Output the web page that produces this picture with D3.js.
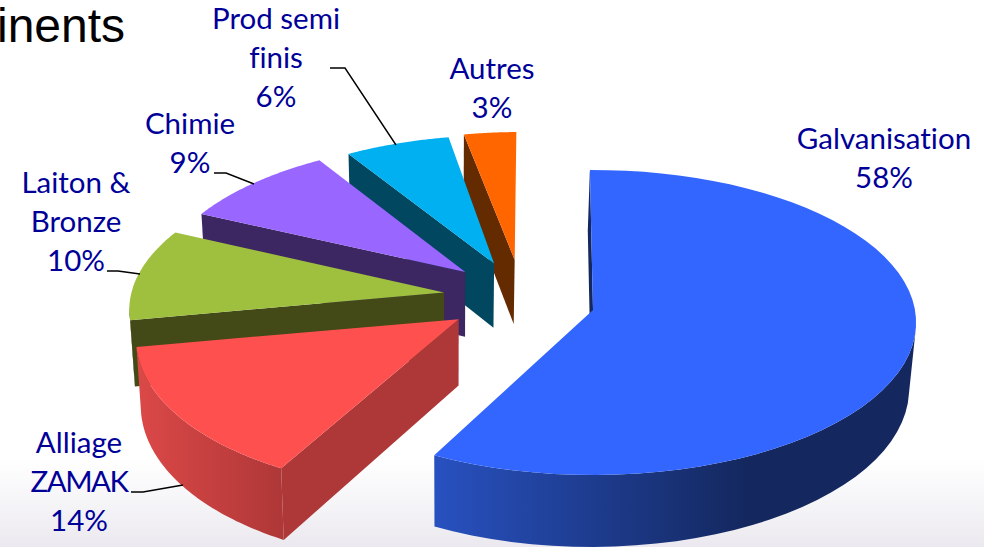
<!DOCTYPE html>
<html>
<head>
<meta charset="utf-8">
<script src="https://cdn.jsdelivr.net/npm/d3@7"></script>
<style>
  html, body { margin: 0; padding: 0; background: #fff; }
  svg { display: block; }
</style>
</head>
<body>
<div id="chart"></div>
<script>
// Chart values
const categories = ['Galvanisation', 'Alliage ZAMAK', 'Laiton & Bronze', 'Chimie', 'Prod semi finis', 'Autres'];
const shares = [58, 14, 10, 9, 6, 3];

// Slice styles, same order as categories
const topColors = ['#3366ff', '#ff5050', '#9fbf3f', '#9966ff', '#00b0f0', '#ff6600'];
const wallColors = ['#14285f', '#ae3737', '#434a17', '#3d2763', '#00475f', '#652b00'];
const rimLight = ['#2851c0', '#dc4848', '#434a17', '#3d2763', '#00475f', '#652b00'];
const explodeX = [0, -0.415, -0.467, -0.405, -0.315, -0.25];
const explodeY = [0, 0.06, -0.117, -0.256, -0.315, -0.34];
const radius = [1, 0.99, 0.98, 0.97, 0.96, 0.96];
const stretchY = [1, 1.04, 1, 1, 1, 1];
const turnStart = [1.4, 2, 2, 2, 2, 1.2]; // degrees
const turnEnd = [0.4, 2.8, 2, 2, 2, 1.2];

const labelLines = [
  ['Galvanisation', '58%'],
  ['Alliage', 'ZAMAK', '14%'],
  ['Laiton &', 'Bronze', '10%'],
  ['Chimie', '9%'],
  ['Prod semi', 'finis', '6%'],
  ['Autres', '3%']
];
const labelX = [884, 79, 76, 190, 276, 492];
const labelY = [149, 453, 193, 134, 29, 79];
const leaders = [
  null,
  [[131, 492], [143, 492], [183, 485]],
  [[107, 271], [118, 271], [140, 274]],
  [[214, 173], [226, 173], [254, 184]],
  [[330, 68], [345, 68], [396, 145]],
  null
];

const width = 984;
const height = 547;

// Projection of the tilted pie
const center = {x: 593, y: 310};
const rx = 322;
const ry = 151.5;
const persp = 0.082;
const depth = 66;
const vanishX = 450;
const shrink = 0.015;
const rad = Math.PI / 180;
const rotation = -2 * rad;

function project(wx, wy) {
  const p = 1 / (1 - persp * wy);
  return [center.x + rx * wx * p, center.y + ry * wy * p, p];
}

function lower(pt) {
  return [pt[0] + (vanishX - pt[0]) * shrink, pt[1] + depth * pt[2]];
}

const svg = d3.select('#chart')
  .append('svg')
  .attr('width', width)
  .attr('height', height);

const defs = svg.append('defs');

const bg = defs.append('linearGradient')
  .attr('id', 'bg')
  .attr('x1', 0).attr('x2', 0).attr('y1', 0).attr('y2', 1);
bg.append('stop').attr('offset', 0.84).attr('stop-color', '#ffffff');
bg.append('stop').attr('offset', 1).attr('stop-color', '#ebe9ef');

svg.append('rect')
  .attr('width', width)
  .attr('height', height)
  .attr('fill', 'url(#bg)');

const pie = d3.pie()
  .sort(null)
  .startAngle(rotation)
  .endAngle(rotation + 2 * Math.PI);

const arcs = pie(shares);
const line = d3.line();

// Back slices first, the big blue one last
const order = [5, 4, 3, 2, 1, 0];

order.forEach(i => {
  const a = arcs[i];
  const from = a.startAngle + turnStart[i] * rad;
  const to = a.endAngle + turnEnd[i] * rad;
  const apex = project(explodeX[i], explodeY[i]);
  const steps = d3.range(0, 61).map(k => from + (to - from) * k / 60);
  const rim = steps.map(th => project(
    explodeX[i] + radius[i] * Math.sin(th),
    explodeY[i] - radius[i] * stretchY[i] * Math.cos(th)
  ));
  const g = svg.append('g');

  // rim wall, only the part that faces the viewer
  const front = rim.filter((d, k) => steps[k] > 94 * rad && steps[k] < 265 * rad);
  if (front.length > 1) {
    const gradId = 'rim' + i;
    const grad = defs.append('linearGradient')
      .attr('id', gradId)
      .attr('gradientUnits', 'userSpaceOnUse')
      .attr('x1', d3.min(rim, d => d[0])).attr('x2', i === 0 ? 745 : rim[0][0] + 5)
      .attr('y1', 0).attr('y2', 0);
    grad.append('stop').attr('offset', 0).attr('stop-color', rimLight[i]);
    grad.append('stop').attr('offset', 1).attr('stop-color', wallColors[i]);

    g.append('path')
      .attr('d', line(front.map(d => d.slice(0, 2)).concat(front.slice().reverse().map(lower))) + 'Z')
      .attr('fill', `url(#${gradId})`);
  }

  // cut face on the start side
  g.append('path')
    .attr('d', line([rim[0].slice(0, 2), apex.slice(0, 2), lower(apex), lower(rim[0])]) + 'Z')
    .attr('fill', wallColors[i]);

  // top face
  g.append('path')
    .attr('d', line([apex.slice(0, 2)].concat(rim.map(d => d.slice(0, 2)))) + 'Z')
    .attr('fill', topColors[i]);
});

// Leader lines
svg.append('g')
  .selectAll('path')
  .data(leaders.filter(d => d))
  .join('path')
  .attr('d', d => line(d))
  .attr('fill', 'none')
  .attr('stroke', '#000')
  .attr('stroke-width', 1.4);

// Labels
labelLines.forEach((lines, i) => {
  svg.append('text')
    .attr('text-anchor', 'middle')
    .attr('font-family', 'Lato, sans-serif')
    .attr('font-size', 29.5)
    .attr('fill', '#000099')
    .style('font-variant-ligatures', 'none')
    .selectAll('tspan')
    .data(lines)
    .join('tspan')
    .attr('x', labelX[i])
    .attr('y', (d, k) => labelY[i] + k * 39)
    .attr('letter-spacing', d => d === 'ZAMAK' ? -1.5 : 0)
    .text(d => d);
});

// Remainder of the slide title, cut by the crop
svg.append('text')
  .attr('x', -3)
  .attr('y', 42)
  .attr('font-family', '"Liberation Sans", Arial, sans-serif')
  .attr('font-size', 48)
  .attr('fill', '#000')
  .text('inents');
</script>
</body>
</html>
